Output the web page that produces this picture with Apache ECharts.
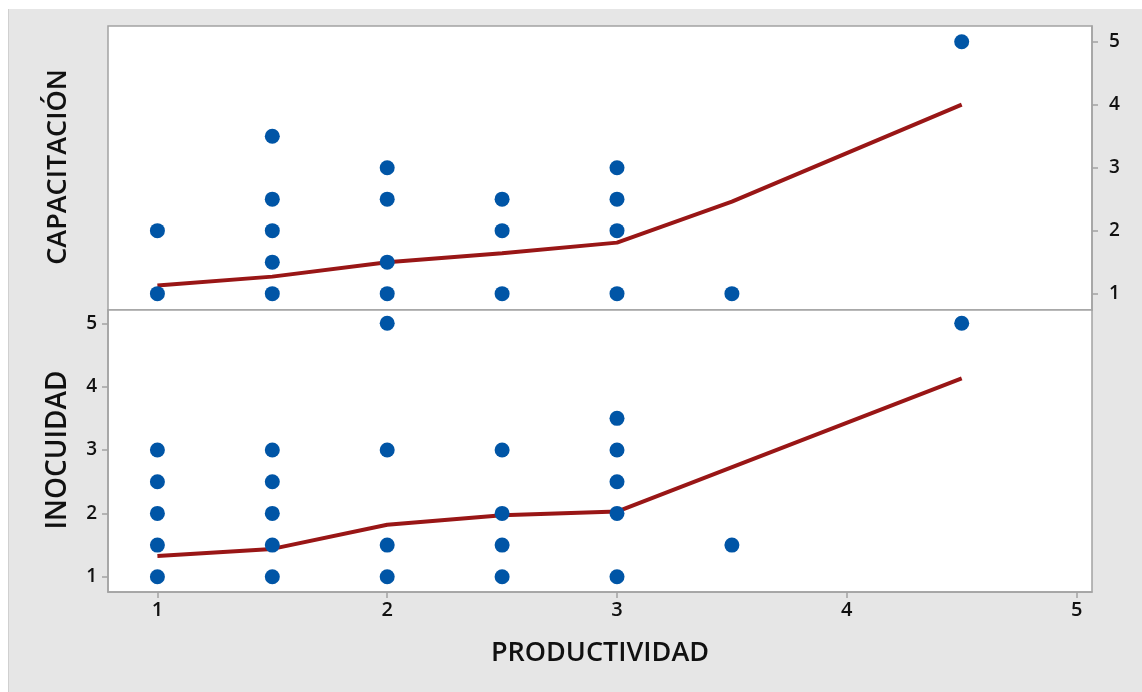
<!DOCTYPE html>
<html>
<head>
<meta charset="utf-8">
<script src="https://cdn.jsdelivr.net/npm/echarts@6/dist/echarts.min.js"></script>
<style>
html,body{margin:0;padding:0;background:#fff;}
#bg{position:absolute;left:8px;top:9px;width:1134px;height:683px;background:#e6e6e6;border-left:1px solid #d0d0d0;box-sizing:border-box;}
#chart{position:absolute;left:0;top:0;width:1142px;height:692px;}
</style>
</head>
<body>
<div id="bg"></div>
<div id="chart"></div>
<script>
const xTickValues = [1, 2, 3, 4, 5];
const yTickValues = [1, 2, 3, 4, 5];
const xTitle = 'PRODUCTIVIDAD';
const topTitle = 'CAPACITACIÓN';
const bottomTitle = 'INOCUIDAD';

const capX = [1, 1, 1.5, 1.5, 1.5, 1.5, 1.5, 2, 2, 2, 2, 2.5, 2.5, 2.5, 3, 3, 3, 3, 3.5, 4.5];
const capY = [1, 2, 1, 1.5, 2, 2.5, 3.5, 1, 1.5, 2.5, 3, 1, 2, 2.5, 1, 2, 2.5, 3, 1, 5];

const inoX = [1, 1, 1, 1, 1, 1.5, 1.5, 1.5, 1.5, 1.5, 2, 2, 2, 2, 2.5, 2.5, 2.5, 2.5, 3, 3, 3, 3, 3, 3.5, 4.5];
const inoY = [1, 1.5, 2, 2.5, 3, 1, 1.5, 2, 2.5, 3, 1, 1.5, 3, 5, 1, 1.5, 2, 3, 1, 2, 2.5, 3, 3.5, 1.5, 5];

const capFitX = [1, 1.5, 2, 2.5, 3, 3.5, 4.5];
const capFitY = [1.13, 1.27, 1.5, 1.64, 1.81, 2.46, 4.0];

const inoFitX = [1, 1.5, 2, 2.5, 3, 4.5];
const inoFitY = [1.33, 1.44, 1.82, 1.97, 2.03, 4.13];

const zip = (a, b) => a.map((v, i) => [v, b[i]]);

const chart = echarts.init(document.getElementById('chart'));
const axisCol = '#a3a3a3';
const yLabelStyle = {color: '#111', fontSize: 19, fontFamily: 'Open Sans', fontWeight: 600};
const xLabelStyle = {color: '#111', fontSize: 20, fontFamily: 'Open Sans', fontWeight: 600};

chart.setOption({
  animation: false,
  grid: [
    {left: 108, top: 26, width: 984, height: 284, show: true, backgroundColor: '#fff', borderColor: axisCol, borderWidth: 1.5},
    {left: 108, top: 310, width: 984, height: 282, show: true, backgroundColor: '#fff', borderColor: axisCol, borderWidth: 1.5}
  ],
  xAxis: [
    {gridIndex: 0, type: 'value', min: 0.785, max: 5.067, show: false, splitLine: {show: false}},
    {gridIndex: 1, type: 'value', min: 0.785, max: 5.067,
      axisLine: {show: true, lineStyle: {color: axisCol, width: 1.5}},
      axisTick: {show: true, length: 6, lineStyle: {color: axisCol, width: 1.5}, customValues: xTickValues},
      axisLabel: Object.assign({margin: 8, customValues: xTickValues}, xLabelStyle),
      splitLine: {show: false},
      name: xTitle, nameLocation: 'middle', nameGap: 48,
      nameTextStyle: {color: '#111', fontSize: 27, fontFamily: 'Open Sans', fontWeight: 600}
    }
  ],
  yAxis: [
    {gridIndex: 0, type: 'value', min: 0.74, max: 5.25, position: 'right',
      axisLine: {show: true, lineStyle: {color: axisCol, width: 1.5}},
      axisTick: {show: true, length: 6, lineStyle: {color: axisCol, width: 1.5}, customValues: yTickValues},
      axisLabel: Object.assign({margin: 17, customValues: yTickValues}, yLabelStyle),
      splitLine: {show: false}
    },
    {gridIndex: 1, type: 'value', min: 0.76, max: 5.21, position: 'left',
      axisLine: {show: true, lineStyle: {color: axisCol, width: 1.5}},
      axisTick: {show: true, length: 6, lineStyle: {color: axisCol, width: 1.5}, customValues: yTickValues},
      axisLabel: Object.assign({margin: 11, customValues: yTickValues}, yLabelStyle),
      splitLine: {show: false}
    }
  ],
  graphic: [
    {type: 'text', x: 58, y: 167, rotation: Math.PI / 2,
      style: {text: topTitle, fill: '#111', font: '600 27px "Open Sans"', textAlign: 'center', textVerticalAlign: 'middle'}},
    {type: 'text', x: 58, y: 450, rotation: Math.PI / 2,
      style: {text: bottomTitle, fill: '#111', font: '600 28px "Open Sans"', textAlign: 'center', textVerticalAlign: 'middle'}}
  ],
  series: [
    {type: 'line', xAxisIndex: 0, yAxisIndex: 0, data: zip(capFitX, capFitY), symbol: 'none',
      lineStyle: {color: '#991616', width: 4}, z: 2},
    {type: 'scatter', xAxisIndex: 0, yAxisIndex: 0, data: zip(capX, capY), symbolSize: 15,
      itemStyle: {color: '#0055a6', opacity: 1}, z: 3},
    {type: 'line', xAxisIndex: 1, yAxisIndex: 1, data: zip(inoFitX, inoFitY), symbol: 'none',
      lineStyle: {color: '#991616', width: 4}, z: 2},
    {type: 'scatter', xAxisIndex: 1, yAxisIndex: 1, data: zip(inoX, inoY), symbolSize: 15,
      itemStyle: {color: '#0055a6', opacity: 1}, z: 3}
  ]
});
</script>
</body>
</html>
